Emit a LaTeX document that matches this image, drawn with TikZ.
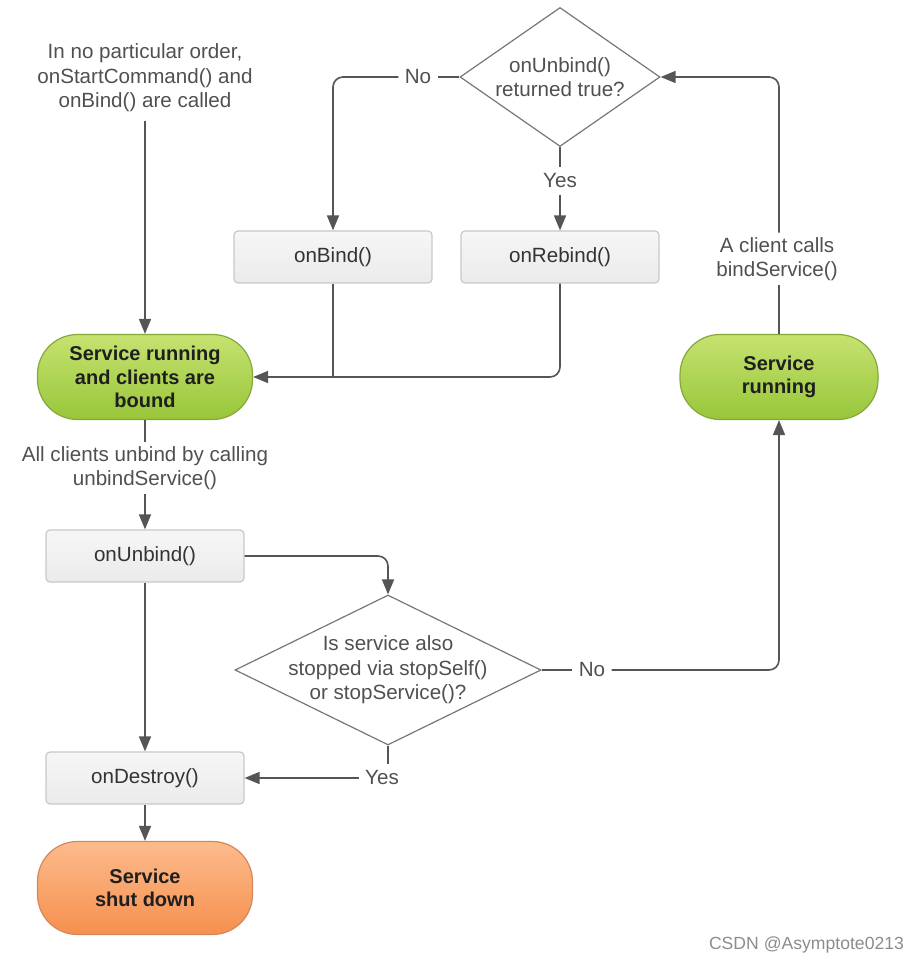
\documentclass[tikz,border=0pt]{standalone}
\usepackage{fontspec}
\setmainfont{Liberation Sans}
\usetikzlibrary{arrows.meta,shapes.geometric}
\definecolor{linec}{HTML}{555555}
\definecolor{txtc}{HTML}{505050}
\definecolor{boxfill}{HTML}{EBEBEB}
\definecolor{boxtop}{HTML}{F6F6F6}
\definecolor{boxdraw}{HTML}{C8C8C8}
\definecolor{gtop}{HTML}{C6E270}
\definecolor{gbot}{HTML}{98C63A}
\definecolor{gdraw}{HTML}{86A83A}
\definecolor{otop}{HTML}{FCBB8C}
\definecolor{obot}{HTML}{F6904E}
\definecolor{odraw}{HTML}{D5875A}
\tikzset{
  base/.style={font=\fontsize{10.3}{12.3}\selectfont, text=txtc, align=center},
  caption/.style={base, inner sep=2pt},
  lbl/.style={base, inner sep=3pt},
  callbox/.style={base, text=black!80, draw=boxdraw, line width=0.6pt, top color=boxtop, bottom color=boxfill,
      rounded corners=2pt, minimum width=99pt, minimum height=26pt},
  state/.style={font=\bfseries\fontsize{10}{11.8}\selectfont, text=black!88, align=center, line width=0.6pt,
      rounded corners=20pt, minimum height=42.5pt},
  green/.style={state, draw=gdraw, top color=gtop, bottom color=gbot},
  orange/.style={state, draw=odraw, top color=otop, bottom color=obot},
  decision/.style={diamond, draw=linec!80, line width=0.6pt, inner sep=0pt, fill=white},
  conn/.style={draw=linec, line width=0.8pt},
  arr/.style={conn, -{Triangle[length=7.5pt,width=6pt]}},
}
\begin{document}
\begin{tikzpicture}[x=0.5pt,y=-0.5pt]
\useasboundingbox (0,0) rectangle (912,961);

% nodes
\node[caption, inner ysep=4pt] (cap1) at (145,78) {In no particular order,\\onStartCommand() and\\onBind() are called};
\node[green, minimum width=107.5pt] (g1) at (145,377) {Service running\\and clients are\\bound};
\node[caption] (cap2) at (145,468) {All clients unbind by calling\\unbindService()};
\node[callbox] (unbind) at (145,556) {onUnbind()};
\node[callbox] (destroy) at (145,778) {onDestroy()};
\node[orange, minimum width=107.5pt, minimum height=46.5pt] (shut) at (145,888) {Service\\shut down};

\node[decision, minimum width=153pt, minimum height=75pt] (d2) at (388,670) {};
\node[base] (d2t) at (d2.center) {Is service also\\stopped via stopSelf()\\or stopService()?};
\node[lbl] (yes2) at (382,778) {Yes};
\node[lbl] (no2) at (592,670) {No};

\node[green, minimum width=99pt] (g2) at (779,377) {Service\\running};
\node[caption] (cap3) at (777,259) {A client calls\\bindService()};

\node[decision, minimum width=100pt, minimum height=69.5pt] (d1) at (560,77) {};
\node[base] (d1t) at (d1.center) {onUnbind()\\returned true?};
\node[lbl] (yes1) at (560,181) {Yes};
\node[lbl] (no1) at (418,77) {No};

\node[callbox] (bind) at (333,257) {onBind()};
\node[callbox] (rebind) at (560,257) {onRebind()};

\node[font=\fontsize{8.8}{11}\selectfont, text=black!45, anchor=east] (wm) at (911,945) {CSDN @Asymptote0213};

% connectors
\draw[arr] (cap1.south) -- (g1.north);
\draw[conn] (g1.south) -- (cap2.north);
\draw[arr] (cap2.south) -- (unbind.north);
\draw[arr] (unbind.south) -- (destroy.north);
\draw[arr] (destroy.south) -- (shut.north);
\draw[arr, rounded corners=5pt] (unbind.east) -| (d2.north);
\draw[conn] (d2.south) -- (d2.south |- yes2.north);
\draw[arr] (yes2.west) -- (destroy.east);
\draw[conn] (d2.east) -- (no2.west);
\draw[arr, rounded corners=5pt] (no2.east) -| (g2.south);
\draw[conn] (g2.north) -- (g2.north |- cap3.south);
\draw[arr, rounded corners=5pt] (g2.north |- cap3.north) |- (d1.east);
\draw[conn] (d1.south) -- (yes1.north);
\draw[arr] (yes1.south) -- (rebind.north);
\draw[conn] (d1.west) -- (no1.east);
\draw[arr, rounded corners=5pt] (no1.west) -| (bind.north);
\draw[arr, rounded corners=5pt] (rebind.south) |- (g1.east);
\draw[conn] (bind.south) -- (bind.south |- g1.east);
\end{tikzpicture}
\end{document}
